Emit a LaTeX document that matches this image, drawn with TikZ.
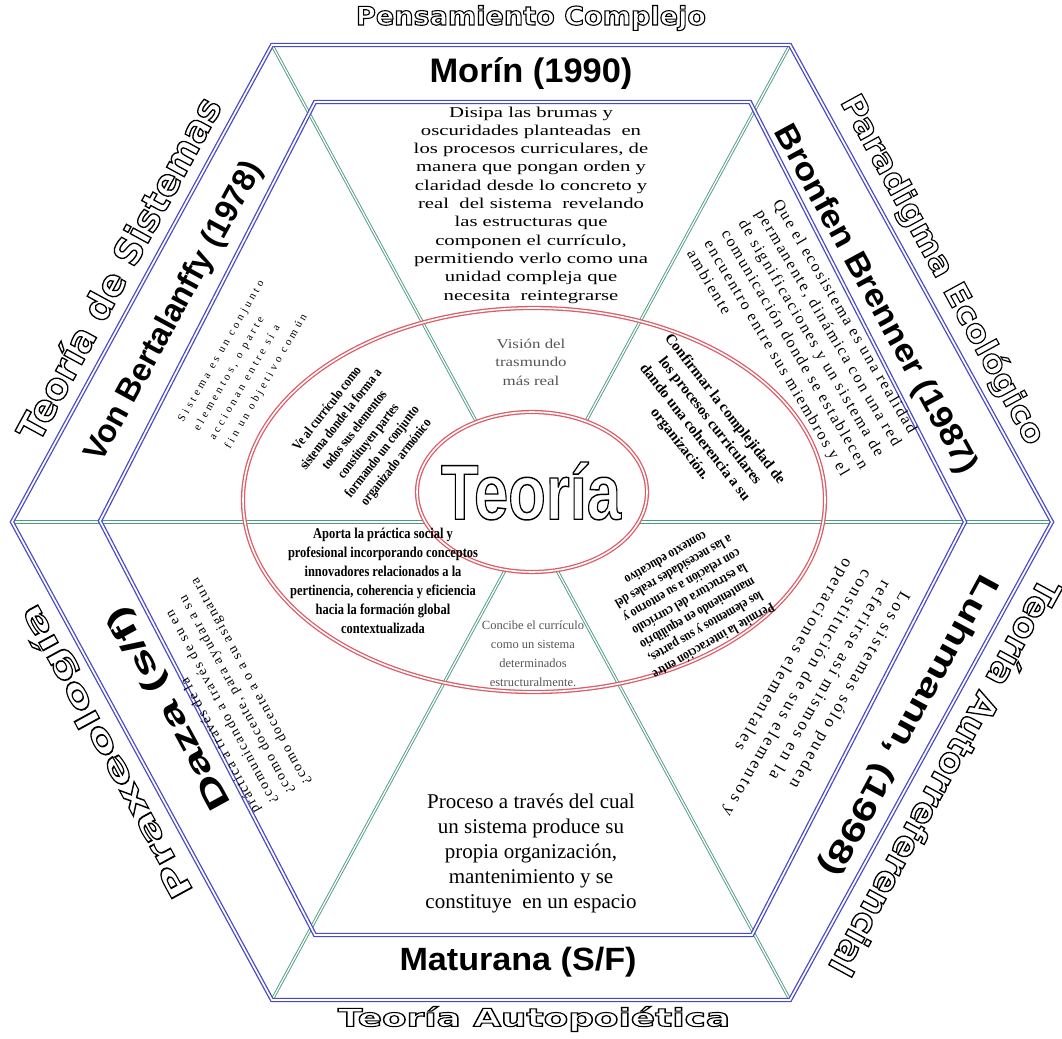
\documentclass[tikz,border=0pt]{standalone}
\usepackage{fontspec}
\usepackage{graphicx}
\setmainfont{Liberation Serif}
\newfontfamily\labelsans{Liberation Sans}
\newfontfamily\roundsans{DejaVu Sans}
\newfontfamily\wideserif[FakeStretch=1.38]{Liberation Serif}
\newfontfamily\softserif[FakeStretch=1.25]{Liberation Serif}
\newfontfamily\tightbold[FakeStretch=0.83]{Liberation Serif}
\newfontfamily\spacedserif[LetterSpace=12]{Liberation Serif}
\newfontfamily\looseserif[LetterSpace=15]{Liberation Serif}
\newfontfamily\airyserif[LetterSpace=30]{Liberation Serif}

\definecolor{hexblue}{RGB}{74,74,200}
\definecolor{spokegreen}{RGB}{76,156,124}
\definecolor{ringred}{RGB}{222,92,102}
\definecolor{softgray}{RGB}{85,85,85}

% hollow (outlined) lettering: stroke the glyph outlines only
\newcommand{\hollow}[1]{\special{pdf:code q 1 Tr 1 w 0 G}#1\special{pdf:code Q}}
% scale a box to a given width and total height
\newcommand{\fitbox}[3]{\resizebox*{#1}{#2}{#3}}

\tikzset{
  hexline/.style={draw=hexblue, line width=1.3pt, double=white, double distance=1.7pt, line join=miter},
  spoke/.style={draw=spokegreen, line width=0.9pt, double=white, double distance=1.3pt},
  ring/.style={draw=ringred, line width=1.3pt, double=white, double distance=1.6pt},
  lbl/.style={inner sep=0pt, outer sep=0pt},
  outerlabel/.style={lbl, font=\roundsans\bfseries},
  author/.style={lbl, font=\labelsans\bfseries},
  note/.style={lbl, align=center},
}

\begin{document}
\begin{tikzpicture}[x=1pt, y=-1pt]
\useasboundingbox (0,0) rectangle (1062,1038);
\fill[white] (0,0) rectangle (1062,1038);

% outer hexagon corners
\coordinate (O1) at (272,45);
\coordinate (O2) at (790,45);
\coordinate (O3) at (1052,522);
\coordinate (O4) at (790,1000);
\coordinate (O5) at (272,1000);
\coordinate (O6) at (12,522);
% inner hexagon corners
\coordinate (I1) at (315,102);
\coordinate (I2) at (750,102);
\coordinate (I3) at (965,522);
\coordinate (I4) at (752,935);
\coordinate (I5) at (315,935);
\coordinate (I6) at (100,521);

% spokes through the centre
\draw[spoke] (O1) -- (O4);
\draw[spoke] (O2) -- (O5);
\draw[spoke] (O6) -- (O3);

% hexagon frames
\draw[hexline] (O1) -- (O2) -- (O3) -- (O4) -- (O5) -- (O6) -- cycle;
\draw[hexline] (I1) -- (I2) -- (I3) -- (I4) -- (I5) -- (I6) -- cycle;

% rings
\draw[ring] (534,500) ellipse [x radius=291pt, y radius=192pt];
\draw[ring, fill=white] (532,492) ellipse [x radius=115pt, y radius=80pt];

% centre
\node[lbl, font=\labelsans\bfseries] (teoria) at (531,491)
  {\fitbox{180pt}{58pt}{\fontsize{54}{54}\selectfont\hollow{Teoría}}};

% outer theory labels
\node[outerlabel] (pensamiento) at (531,18)
  {\fitbox{350pt}{25pt}{\fontsize{24}{24}\selectfont\hollow{Pensamiento Complejo}}};
\node[outerlabel] (autopoietica) at (534,1019)
  {\fitbox{392pt}{25pt}{\fontsize{24}{24}\selectfont\hollow{Teoría Autopoiética}}};
\node[outerlabel, rotate=61.4] (sistemas) at (118,268)
  {\fitbox{385pt}{30pt}{\fontsize{28}{28}\selectfont\hollow{Teoría de Sistemas}}};
\node[outerlabel, rotate=-61.4] (ecologico) at (942,270)
  {\fitbox{393pt}{32pt}{\fontsize{28}{28}\selectfont\hollow{Paradigma Ecológico}}};
\node[outerlabel, rotate=-118.6] (autorref) at (946,778)
  {\fitbox{446pt}{28pt}{\fontsize{26}{26}\selectfont\hollow{Teoría Autorreferencial}}};
\node[outerlabel, rotate=118.6] (praxeologia) at (107,751)
  {\fitbox{330pt}{32pt}{\fontsize{28}{28}\selectfont\hollow{Praxeología}}};

% authors
\node[author] (morin) at (531,74)
  {\fitbox{203pt}{32pt}{\fontsize{30}{30}\selectfont Morín (1990)}};
\node[author] (maturana) at (518,962)
  {\fitbox{237pt}{30pt}{\fontsize{30}{30}\selectfont Maturana (S/F)}};
\node[author, rotate=61.4] (bertalanffy) at (175,312)
  {\fitbox{336pt}{30pt}{\fontsize{30}{30}\selectfont Von Bertalanffy (1978)}};
\node[author, rotate=-61.4] (bronfen) at (875,300)
  {\fitbox{392pt}{30pt}{\fontsize{30}{30}\selectfont Bronfen Brenner (1987)}};
\node[author, rotate=-118.6] (luhmann) at (908,725)
  {\fitbox{338pt}{30pt}{\fontsize{30}{30}\selectfont Luhmann, (1998)}};
\node[author, rotate=118.6] (daza) at (170,708)
  {\fitbox{226pt}{30pt}{\fontsize{30}{30}\selectfont Daza (s/f)}};

% sector texts
\node[note, font=\wideserif\fontsize{15}{18.3}\selectfont] (morintext) at (531,205)
  {Disipa las brumas y\\
   oscuridades planteadas~ en\\
   los procesos curriculares, de\\
   manera que pongan orden y\\
   claridad desde lo concreto y\\
   real~ del sistema~ revelando\\
   las estructuras que\\
   componen el currículo,\\
   permitiendo verlo como una\\
   unidad compleja que\\
   necesita~ reintegrarse};

\node[note, font=\fontsize{21}{25}\selectfont] (maturanatext) at (531,853)
  {Proceso a través del cual\\
   un sistema produce su\\
   propia organización,\\
   mantenimiento y se\\
   constituye~ en un espacio};

\node[lbl, align=left, rotate=60, font=\airyserif\fontsize{11}{18}\selectfont] (bertalanffytext) at (245,365)
  {Sistema es un conjunto\\
   elementos, o parte\\
   accionan entre sí a\\
   fin un objetivo común};

\node[lbl, align=left, rotate=-59.5, font=\spacedserif\fontsize{16}{20}\selectfont] (bronfentext) at (804,344)
  {Que el ecosistema es una realidad\\
   permanente, dinámica con una red\\
   de significaciones y un sistema de\\
   comunicación donde se establecen\\
   encuentro entre sus miembros y el\\
   ambiente};

\node[lbl, align=left, rotate=-120, font=\looseserif\fontsize{17}{22}\selectfont] (luhmanntext) at (806,698)
  {Los sistemas sólo pueden\\
   referirse así mismos en la\\
   constitución de sus elementos y\\
   operaciones elementales};

\node[lbl, align=left, rotate=118.6, font=\spacedserif\fontsize{14}{19}\selectfont] (dazatext) at (226,695)
  {práctica a través de la\\
   ¿comunicando a través de su en\\
   ¿como docente, para ayudar a su\\
   ¿como docente a o a su asignatura};

% ring texts
\node[note, text=softgray, font=\softserif\fontsize{13.5}{18.5}\selectfont] (vision) at (531,362)
  {Visión del\\trasmundo\\más real};

\node[note, text=softgray, font=\fontsize{12.5}{19}\selectfont] (concibe) at (533,654)
  {Concibe el currículo\\como un sistema\\determinados\\estructuralmente.};

\node[note, font=\tightbold\bfseries\fontsize{15}{19}\selectfont] (aporta) at (383,581)
  {Aporta la práctica social y\\
   profesional incorporando conceptos\\
   innovadores relacionados a la\\
   pertinencia, coherencia y eficiencia\\
   hacia la formación global\\
   contextualizada};

\node[note, rotate=52, font=\tightbold\bfseries\fontsize{14}{17.5}\selectfont] (vecurriculo) at (362,436)
  {Ve al currículo como\\
   sistema donde la forma a\\
   todos sus elementos\\
   constituyen partes\\
   formando un conjunto\\
   organizado armónico};

\node[note, rotate=-52, font=\bfseries\fontsize{15}{19}\selectfont] (confirmar) at (702,427)
  {Confirmar la complejidad de\\
   los procesos curriculares\\
   dando una coherencia a su\\
   organización.};

\node[note, rotate=210, font=\tightbold\bfseries\fontsize{14}{16}\selectfont] (interaccion) at (690,600)
  {Permite la interacción entre\\
   los elementos y sus partes,\\
   manteniendo en equilibrio\\
   la estructura del currículo\\
   con relación a su entorno y\\
   a las necesidades reales del\\
   contexto educativo};
\end{tikzpicture}
\end{document}
